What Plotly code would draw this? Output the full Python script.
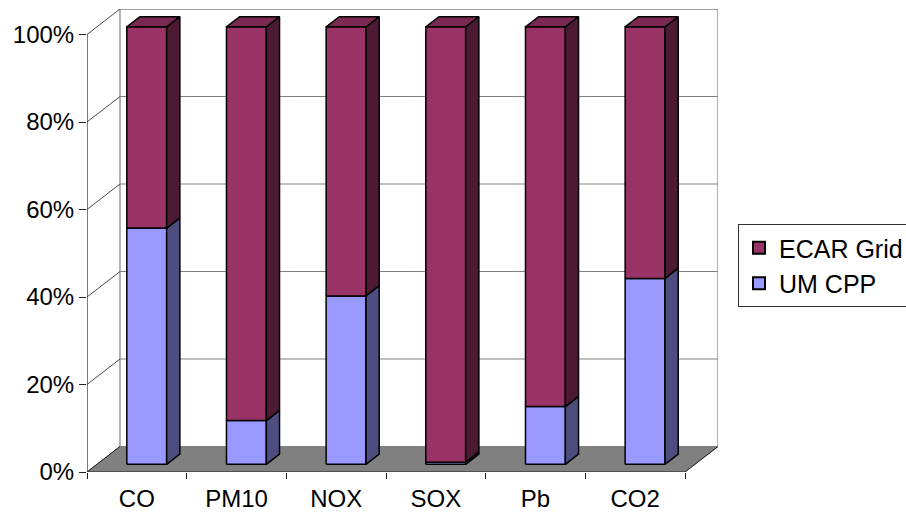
import plotly.graph_objects as go

# ---- data ----
categories = ["CO", "PM10", "NOX", "SOX", "Pb", "CO2"]
um_cpp = [54, 10, 38.5, 0.5, 13.2, 42.5]
ecar_grid = [100 - v for v in um_cpp]
y_ticks = [0, 20, 40, 60, 80, 100]
series_names = ["ECAR Grid", "UM CPP"]

# ---- styling / geometry ----
FONT = "Liberation Sans, Arial, sans-serif"
DX = 0.331   # depth offset (category units)
DY = 5.83    # depth offset (percent units)
F0, F1 = 0.30, 0.70   # bar depth position
HALF = 0.20           # half bar width
colors = {
    "ECAR Grid": dict(front="#993366", side="#4D1A33", top="#7A2952"),
    "UM CPP": dict(front="#9999FF", side="#4D4D80", top="#7A7ACC"),
}

n = len(categories)
x_lo, x_hi = -0.5, n - 0.5

fig = go.Figure()


def poly(xs, ys, fill, line_color="black", width=1.5):
    fig.add_trace(go.Scatter(
        x=list(xs) + [xs[0]], y=list(ys) + [ys[0]], mode="lines", fill="toself",
        fillcolor=fill, line=dict(color=line_color, width=width),
        showlegend=False, hoverinfo="skip"))


def lines(xs, ys, color, width=1):
    fig.add_trace(go.Scatter(x=xs, y=ys, mode="lines",
                             line=dict(color=color, width=width),
                             showlegend=False, hoverinfo="skip"))


# back wall
poly([x_lo + DX, x_hi + DX, x_hi + DX, x_lo + DX],
     [DY, DY, 100 + DY, 100 + DY], "white", "#808080", 1.2)
# floor
poly([x_lo, x_hi, x_hi + DX, x_lo + DX], [0, 0, DY, DY], "#808080", "#808080", 1)

# gridlines on back wall and side-wall diagonals
gx, gy, dxs, dys = [], [], [], []
for v in y_ticks[1:]:
    gx += [x_lo + DX, x_hi + DX, None]
    gy += [v + DY, v + DY, None]
    dxs += [x_lo, x_lo + DX, None]
    dys += [v, v + DY, None]
lines(gx, gy, "#808080", 1.2)
lines(dxs, dys, "#202020", 0.8)
# floor left diagonal, back-right diagonal
lines([x_lo, x_lo + DX, None, x_hi, x_hi + DX],
      [0, DY, None, 0, DY], "#202020", 1)
# front axes
lines([x_lo, x_lo, None, x_lo, x_hi], [100, 0, None, 0, 0], "#202020", 1.2)

# bars
for i in range(n):
    segs = [("UM CPP", 0, um_cpp[i]), ("ECAR Grid", um_cpp[i], 100)]
    for k, (name, y0, y1) in enumerate(segs):
        c = colors[name]
        xl = i - HALF + F0 * DX
        xr = i + HALF + F0 * DX
        xr2 = i + HALF + F1 * DX
        xl2 = i - HALF + F1 * DX
        poly([xl, xr, xr, xl], [y0 + F0 * DY, y0 + F0 * DY, y1 + F0 * DY, y1 + F0 * DY], c["front"])
        poly([xr, xr2, xr2, xr], [y0 + F0 * DY, y0 + F1 * DY, y1 + F1 * DY, y1 + F0 * DY], c["side"])
        if k == len(segs) - 1:
            poly([xl, xr, xr2, xl2], [y1 + F0 * DY, y1 + F0 * DY, y1 + F1 * DY, y1 + F1 * DY], c["top"])

# legend entries
for gi, name in enumerate(series_names):
    fig.add_trace(go.Scatter(
        x=[None], y=[None], mode="markers", name=name, legendgroup=f"g{gi}",
        marker=dict(symbol="square", size=11, color=colors[name]["front"],
                    line=dict(color="black", width=1.5))))

fig.update_layout(
    width=906, height=513,
    margin=dict(l=87, r=188, t=9, b=41, pad=0),
    paper_bgcolor="white", plot_bgcolor="white",
    font=dict(family=FONT, size=24, color="black"),
    showlegend=True,
    legend=dict(
        xref="container", yref="container", x=738 / 906, y=1 - 224 / 513,
        xanchor="left", yanchor="top", bordercolor="#303030", borderwidth=1,
        bgcolor="white", font=dict(family=FONT, size=25, color="black"),
        tracegroupgap=8, itemsizing="constant", traceorder="normal"),
    xaxis=dict(
        range=[x_lo, x_hi + DX], tickmode="array", tickvals=list(range(n)),
        ticktext=categories, ticks="", showgrid=False, zeroline=False,
        showline=False, fixedrange=True, ticklabelstandoff=10, automargin=False,
        minor=dict(ticks="outside", tick0=-0.5, dtick=1, ticklen=6,
                   tickcolor="#202020", tickwidth=1, showgrid=False)),
    yaxis=dict(
        range=[0, 100 + DY], tickmode="array", tickvals=y_ticks,
        ticktext=[f"{v}%" for v in y_ticks], ticks="outside", ticklen=7,
        tickcolor="#202020", showgrid=False, zeroline=False, showline=False,
        fixedrange=True, automargin=False),
)

fig.write_html("out.html", config={"displayModeBar": False},
               post_script="document.body.style.margin='0';")
